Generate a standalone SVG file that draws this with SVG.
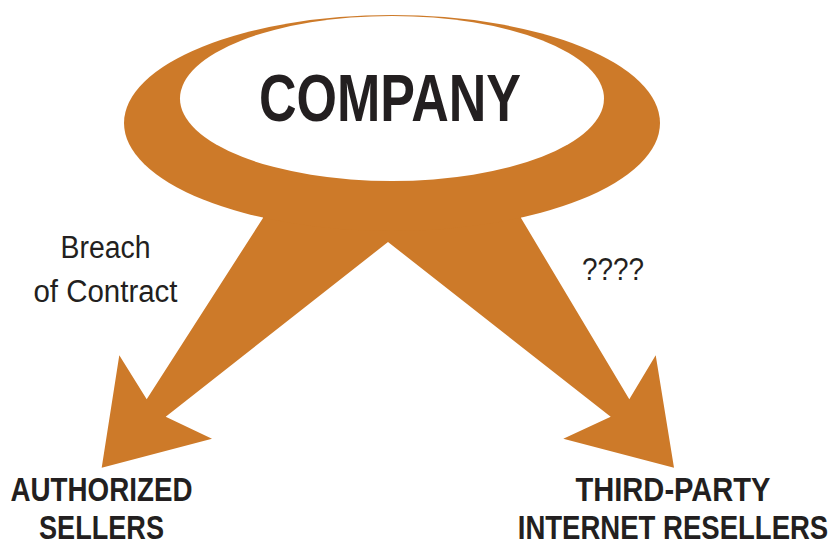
<svg xmlns="http://www.w3.org/2000/svg" width="835" height="546" viewBox="0 0 835 546">
  <style>
    .orange { fill: #CD7A29; }
    .bold { font-family: "Liberation Sans", Arial, sans-serif; font-weight: bold; fill: #231F20; text-anchor: middle; }
    .reg { font-family: "Liberation Sans", Arial, sans-serif; fill: #231F20; text-anchor: middle; }
  </style>
  <rect width="835" height="546" fill="#ffffff"/>
  <g id="connectors">
    <path class="orange" d="M263,190 L263,218 L146.7,399.3 L119.3,355.3 L101.7,467.7 L212,438.7 L165.7,416.7 L388,242 L610.7,416.7 L563.3,438.7 L674,467.7 L655.7,355.3 L629.3,399.3 L521,218 L521,190 Z"/>
    <text class="reg" x="105.5" y="258.3" font-size="31" textLength="90" lengthAdjust="spacingAndGlyphs">Breach</text>
    <text class="reg" x="105.5" y="301.7" font-size="31" textLength="144" lengthAdjust="spacingAndGlyphs">of Contract</text>
    <text class="reg" x="613" y="280" font-size="31" textLength="62" lengthAdjust="spacingAndGlyphs">????</text>
  </g>
  <g id="company">
    <ellipse class="orange" cx="392" cy="123" rx="268" ry="108"/>
    <ellipse cx="392" cy="98.5" rx="212" ry="82.5" fill="#ffffff"/>
    <text class="bold" x="390" y="121" font-size="66" textLength="262" lengthAdjust="spacingAndGlyphs">COMPANY</text>
  </g>
  <g id="authorized-sellers">
    <text class="bold" x="101.5" y="501" font-size="34" textLength="182" lengthAdjust="spacingAndGlyphs">AUTHORIZED</text>
    <text class="bold" x="101.5" y="538.5" font-size="34" textLength="125" lengthAdjust="spacingAndGlyphs">SELLERS</text>
  </g>
  <g id="third-party-resellers">
    <text class="bold" x="673" y="501" font-size="34" textLength="195" lengthAdjust="spacingAndGlyphs">THIRD-PARTY</text>
    <text class="bold" transform="translate(673,538.5) scale(0.81,1)" x="0" y="0" font-size="34">INTERNET RESELLERS</text>
  </g>
</svg>
